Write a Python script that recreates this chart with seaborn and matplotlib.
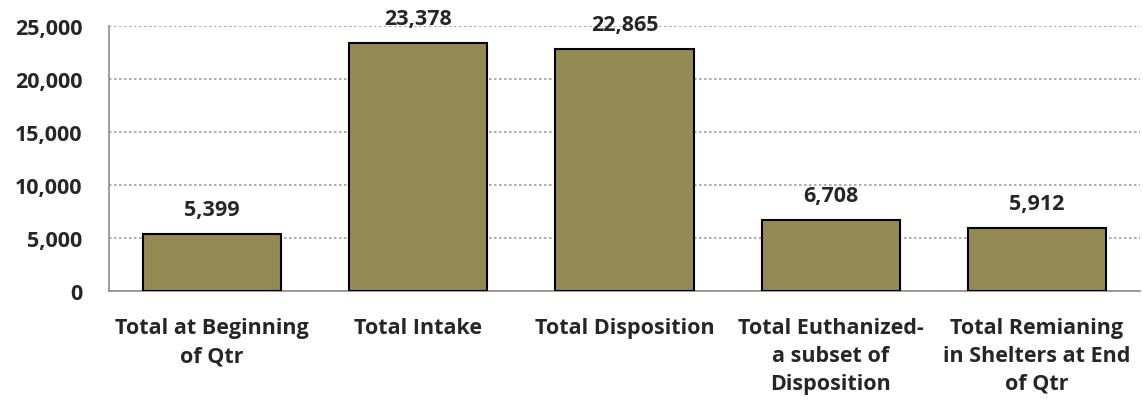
import matplotlib
matplotlib.use("Agg")
import matplotlib.pyplot as plt
import seaborn as sns
import pandas as pd

categories = [
    "Total at Beginning\nof Qtr",
    "Total Intake",
    "Total Disposition",
    "Total Euthanized-\na subset of\nDisposition",
    "Total Remianing\nin Shelters at End\nof Qtr",
]
values = [5399, 23378, 22865, 6708, 5912]
yticks = [0, 5000, 10000, 15000, 20000, 25000]

sns.set_theme(style="white")
plt.rcParams['font.family'] = ['Open Sans', 'DejaVu Sans']

df = pd.DataFrame({"cat": categories, "val": values})

FS = 15.5
fig = plt.figure(figsize=(11.43, 4.06), dpi=100)
ax = fig.add_axes([0.0954, 0.281, 0.902, 0.6525])
sns.barplot(data=df, x="cat", y="val", color="#948A54", saturation=1,
            edgecolor="black", linewidth=1.5, width=0.67, ax=ax, zorder=3)

ax.set_ylim(0, 25000)
ax.set_yticks(yticks)
ax.set_yticklabels([f"{v:,}" for v in yticks], fontsize=FS, fontweight="bold")
ax.set_xticks(range(len(categories)))
ax.set_xticklabels(categories, fontsize=FS, fontweight="bold", linespacing=1.42, va="top")
ax.tick_params(axis="x", length=0, pad=19)
ax.tick_params(axis="y", length=0, pad=19)
ax.set_xlabel("")
ax.set_ylabel("")
ax.yaxis.grid(True, linestyle=(0, (1.5, 1.5)), color="#A0A0A0", linewidth=1.2, zorder=0)
ax.set_axisbelow(True)
for s in ["top", "right"]:
    ax.spines[s].set_visible(False)
for s in ["left", "bottom"]:
    ax.spines[s].set_color("#8C8C8C")
    ax.spines[s].set_linewidth(1.2)
ax.set_xlim(-0.5, len(categories) - 0.5)

for i, v in enumerate(values):
    ax.annotate(f"{v:,}", (i, v), xytext=(0, 10), textcoords="offset points",
                ha="center", va="bottom", fontsize=FS, fontweight="bold",
                annotation_clip=False)

fig.savefig("out.png", dpi=100)
